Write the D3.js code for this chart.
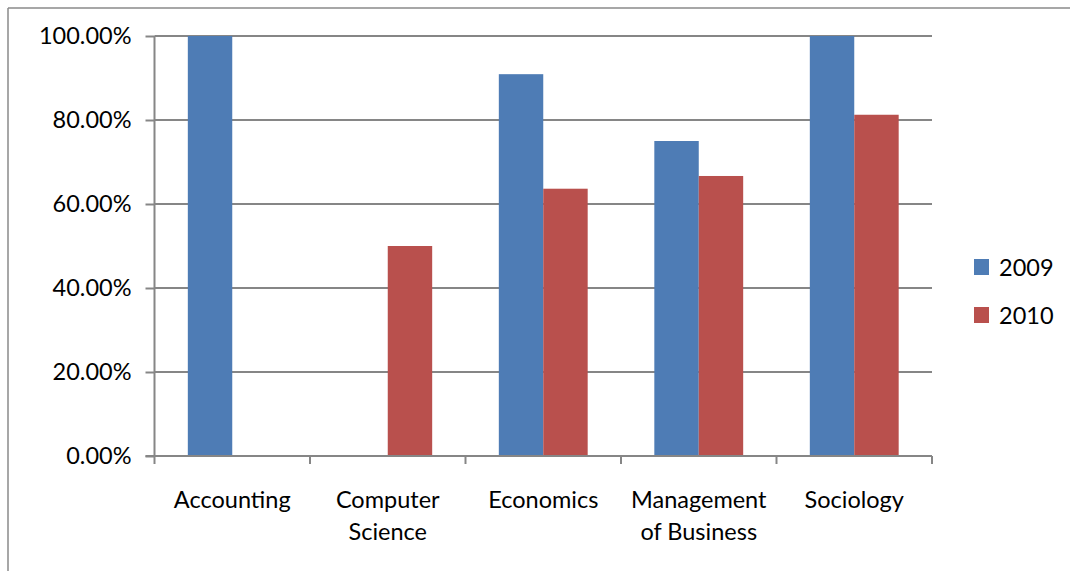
<!DOCTYPE html>
<html>
<head>
<meta charset="utf-8">
<script src="https://cdn.jsdelivr.net/npm/d3@7"></script>
<style>
  html, body { margin: 0; padding: 0; background: #fff; }
  svg { display: block; }
  text { font-family: Lato, "Open Sans", "Liberation Sans", sans-serif; fill: #000; }
</style>
</head>
<body>
<svg id="chart" width="1070" height="571"></svg>
<script>
const categories = [["Accounting"], ["Computer", "Science"], ["Economics"], ["Management", "of Business"], ["Sociology"]];
const categoryKeys = ["Accounting", "Computer Science", "Economics", "Management of Business", "Sociology"];
const seriesNames = ["2009", "2010"];
const values2009 = [1.0, 0, 0.9091, 0.75, 1.0];
const values2010 = [0, 0.5, 0.6364, 0.6667, 0.8125];
const yTicks = [0, 0.2, 0.4, 0.6, 0.8, 1.0];
const colors = ["#4E7CB5", "#B9504D"];

const seriesValues = [values2009, values2010];
const svg = d3.select("#chart");
const FS = 23.5;

const mLeft = 154.5, mRight = 932, mTop = 36, mBottom = 456;

// outer border (top and left visible)
svg.append("line").attr("x1", 8).attr("x2", 1070).attr("y1", 8).attr("y2", 8)
  .attr("stroke", "#8a8a8a").attr("stroke-width", 1.5);
svg.append("line").attr("x1", 8).attr("x2", 8).attr("y1", 8).attr("y2", 571)
  .attr("stroke", "#8a8a8a").attr("stroke-width", 1.5);

const x0 = d3.scaleBand().domain(categoryKeys).range([mLeft, mRight]).padding(0);
const x1 = d3.scaleBand().domain(seriesNames).range([0, x0.bandwidth()]).paddingInner(0).paddingOuter(0.75);
const y = d3.scaleLinear().domain([0, 1]).range([mBottom, mTop]);

// gridlines
svg.append("g").selectAll("line").data(yTicks.filter(d => d > 0)).join("line")
  .attr("x1", mLeft).attr("x2", mRight)
  .attr("y1", d => y(d)).attr("y2", d => y(d))
  .attr("stroke", "#868686").attr("stroke-width", 2);

// y axis
const yAxis = d3.axisLeft(y).tickValues(yTicks).tickSize(9).tickPadding(14)
  .tickFormat(d => (d * 100).toFixed(2) + "%");
const gy = svg.append("g").attr("transform", `translate(${mLeft},0)`).call(yAxis);
gy.select(".domain").remove();
gy.selectAll(".tick line").attr("stroke", "#868686").attr("stroke-width", 2);
gy.selectAll(".tick text").attr("font-size", FS).attr("fill", "#000")
  .style("font-family", "Lato, 'Open Sans', sans-serif");
svg.append("line").attr("x1", mLeft).attr("x2", mLeft).attr("y1", mTop).attr("y2", mBottom)
  .attr("stroke", "#868686").attr("stroke-width", 2);

// bars
const groups = svg.append("g").selectAll("g").data(categoryKeys).join("g")
  .attr("transform", d => `translate(${x0(d)},0)`);
groups.selectAll("rect").data((d, i) => seriesNames.map((s, j) => ({ s, v: seriesValues[j][i], j })))
  .join("rect")
  .attr("x", d => x1(d.s))
  .attr("width", x1.bandwidth())
  .attr("y", d => y(d.v))
  .attr("height", d => y(0) - y(d.v))
  .attr("fill", d => colors[d.j]);

// x axis
const xAxis = d3.axisBottom(x0).tickSize(0).tickFormat("");
const gx = svg.append("g").attr("transform", `translate(0,${mBottom})`).call(xAxis);
gx.select(".domain").remove();
svg.append("line").attr("x1", mLeft - 9).attr("x2", mRight).attr("y1", mBottom).attr("y2", mBottom)
  .attr("stroke", "#868686").attr("stroke-width", 2);
const boundaries = categoryKeys.map(d => x0(d)).concat([mRight]);
svg.append("g").selectAll("line").data(boundaries).join("line")
  .attr("x1", d => d).attr("x2", d => d).attr("y1", mBottom).attr("y2", mBottom + 8)
  .attr("stroke", "#868686").attr("stroke-width", 2);

// category labels
const lbl = svg.append("g").selectAll("text").data(categoryKeys).join("text")
  .attr("x", d => x0(d) + x0.bandwidth() / 2)
  .attr("y", 508)
  .attr("text-anchor", "middle")
  .attr("font-size", FS);
lbl.each(function(d, i) {
  const t = d3.select(this);
  categories[i].forEach((line, k) => {
    t.append("tspan").attr("x", x0(d) + x0.bandwidth() / 2).attr("dy", k === 0 ? 0 : 32).text(line);
  });
});

// legend
const legend = svg.append("g").selectAll("g").data(seriesNames).join("g")
  .attr("transform", (d, i) => `translate(974,${259 + i * 48})`);
legend.append("rect").attr("width", 15).attr("height", 16).attr("fill", (d, i) => colors[i]);
legend.append("text").attr("x", 25).attr("y", 17).attr("font-size", FS).text(d => d);
</script>
</body>
</html>
